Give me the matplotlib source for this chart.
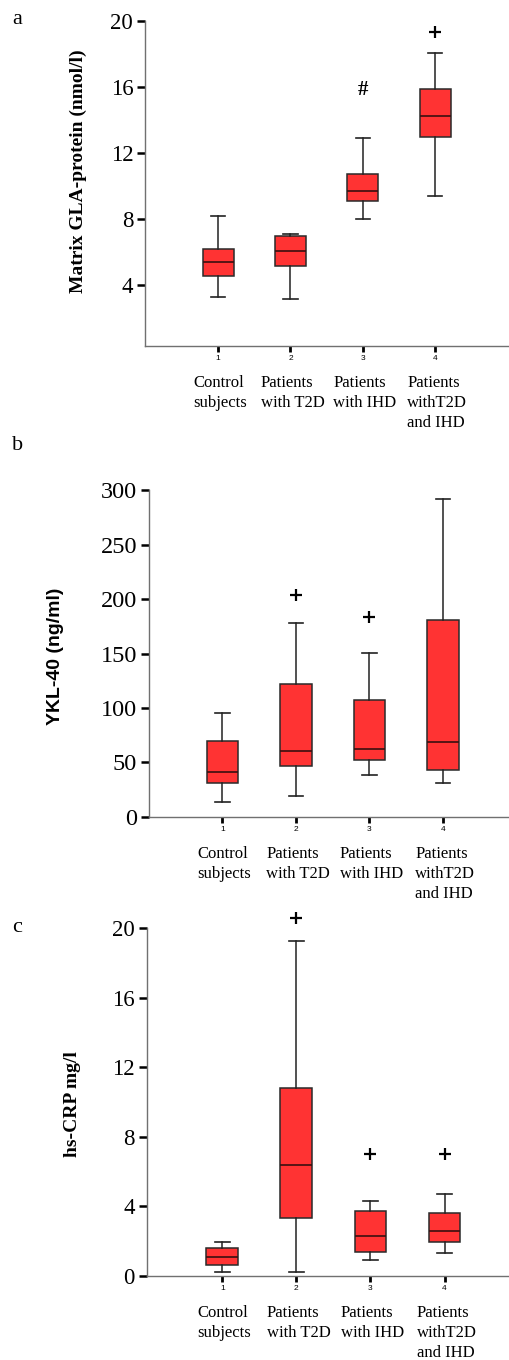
import matplotlib
matplotlib.use("Agg")
import matplotlib.pyplot as plt

categories = ["Control\nsubjects", "Patients\nwith T2D", "Patients\nwith IHD", "Patients\nwithT2D\nand IHD"]
tick_labels = ["1", "2", "3", "4"]

# Panel a: Matrix GLA-protein (nmol/l)
a_whislo = [3.27, 3.13, 8.0, 9.41]
a_q1 = [4.56, 5.17, 9.07, 12.94]
a_med = [5.39, 6.08, 9.69, 14.21]
a_q3 = [6.20, 6.97, 10.72, 15.85]
a_whishi = [8.2, 7.1, 12.92, 18.04]
a_fliers = [[], [], [], [19.3]]
a_yticks = [4, 8, 12, 16, 20]
a_hash = (3, 15.8)

# Panel b: YKL-40 (ng/ml)
b_whislo = [13.2, 18.7, 38.6, 30.9]
b_q1 = [31.3, 46.9, 51.8, 42.6]
b_med = [41.4, 60.1, 62.5, 68.3]
b_q3 = [69.6, 121.6, 107.2, 181.1]
b_whishi = [95.6, 178.0, 150.7, 291.7]
b_fliers = [[], [204.0], [183.2], []]
b_yticks = [0, 50, 100, 150, 200, 250, 300]

# Panel c: hs-CRP mg/l
c_whislo = [0.21, 0.21, 0.90, 1.31]
c_q1 = [0.63, 3.34, 1.38, 1.94]
c_med = [1.06, 6.37, 2.28, 2.55]
c_q3 = [1.59, 10.81, 3.74, 3.61]
c_whishi = [1.96, 19.29, 4.30, 4.70]
c_fliers = [[], [20.58], [7.03], [7.03]]
c_yticks = [0, 4, 8, 12, 16, 20]

SERIF = "Liberation Serif"
SANS = "Liberation Sans"
W, H = 509, 1360

fig = plt.figure(figsize=(W / 100, H / 100), dpi=100)


def px_axes(left, top, right, bottom):
    return fig.add_axes([left / W, 1 - bottom / H, (right - left) / W, (bottom - top) / H])


def draw_panel(ax, whislo, q1, med, q3, whishi, fliers, yticks, ylim, xlim, ytick_size):
    stats = []
    for i in range(len(med)):
        stats.append(dict(med=med[i], q1=q1[i], q3=q3[i], whislo=whislo[i],
                          whishi=whishi[i], fliers=fliers[i]))
    art = ax.bxp(stats, positions=[1, 2, 3, 4], widths=0.43, patch_artist=True,
                 showfliers=True,
                 boxprops=dict(facecolor="#ff3333", edgecolor="#2a2a2a", linewidth=1.1),
                 medianprops=dict(color="#3a1010", linewidth=1.2),
                 whiskerprops=dict(color="#222222", linewidth=1.1),
                 capprops=dict(color="#222222", linewidth=1.2),
                 capwidths=0.2,
                 flierprops=dict(marker="+", markersize=8, markeredgewidth=1.6,
                                 markeredgecolor="black", linestyle="none"))
    for f in art["fliers"]:
        f.set_clip_on(False)
    ax.set_xlim(*xlim)
    ax.set_ylim(*ylim)
    ax.set_yticks(yticks)
    ax.set_yticklabels([str(t) for t in yticks], fontfamily=SERIF, fontsize=ytick_size)
    ax.set_xticks([1, 2, 3, 4])
    ax.set_xticklabels(tick_labels, fontfamily=SANS, fontsize=6)
    ax.tick_params(axis="y", length=5.5, width=1.8, color="black", pad=3)
    ax.tick_params(axis="x", length=4.5, width=2.0, color="black", pad=2.5)
    for s in ["top", "right"]:
        ax.spines[s].set_visible(False)
    for s in ["left", "bottom"]:
        ax.spines[s].set_color("#707070")
        ax.spines[s].set_linewidth(1.0)
    for i, cat in enumerate(categories):
        ax.annotate(cat, xy=(i + 1, 0), xycoords=("data", "axes fraction"),
                    xytext=(1.5, -21), textcoords="offset points",
                    ha="center", va="top", ma="left", fontfamily=SERIF,
                    fontsize=12, linespacing=1.32)


# Panel a
ax_a = px_axes(145, 20.7, 509, 345.7)
draw_panel(ax_a, a_whislo, a_q1, a_med, a_q3, a_whishi, a_fliers, a_yticks,
           (0.33, 20), (-0.01, 5.02), 16.5)
ax_a.text(a_hash[0], a_hash[1], "#", ha="center", va="center", fontsize=15,
          fontweight="bold", fontfamily=SERIF)
fig.text(78 / W, 1 - 171 / H, "Matrix GLA-protein (nmol/l)", rotation=90,
         ha="center", va="center", fontfamily=SERIF, fontweight="bold", fontsize=14)

# Panel b
ax_b = px_axes(149, 490.3, 509, 816.7)
draw_panel(ax_b, b_whislo, b_q1, b_med, b_q3, b_whishi, b_fliers, b_yticks,
           (0, 300), (0.0, 4.9), 17.5)
fig.text(56 / W, 1 - 656 / H, "YKL-40 (ng/ml)", rotation=90,
         ha="center", va="center", fontfamily=SANS, fontweight="bold", fontsize=14)

# Panel c
ax_c = px_axes(146.7, 928.3, 509, 1275.7)
draw_panel(ax_c, c_whislo, c_q1, c_med, c_q3, c_whishi, c_fliers, c_yticks,
           (0, 20), (-0.02, 4.87), 16.5)
fig.text(72.5 / W, 1 - 1104 / H, "hs-CRP mg/l", rotation=90,
         ha="center", va="center", fontfamily=SERIF, fontweight="bold", fontsize=14)

# Panel letters
for letter, ybase in [("a", 24), ("b", 450), ("c", 932)]:
    fig.text(12 / W, 1 - ybase / H, letter, ha="left", va="baseline",
             fontfamily=SERIF, fontsize=16)

fig.savefig("out.png", dpi=100)
